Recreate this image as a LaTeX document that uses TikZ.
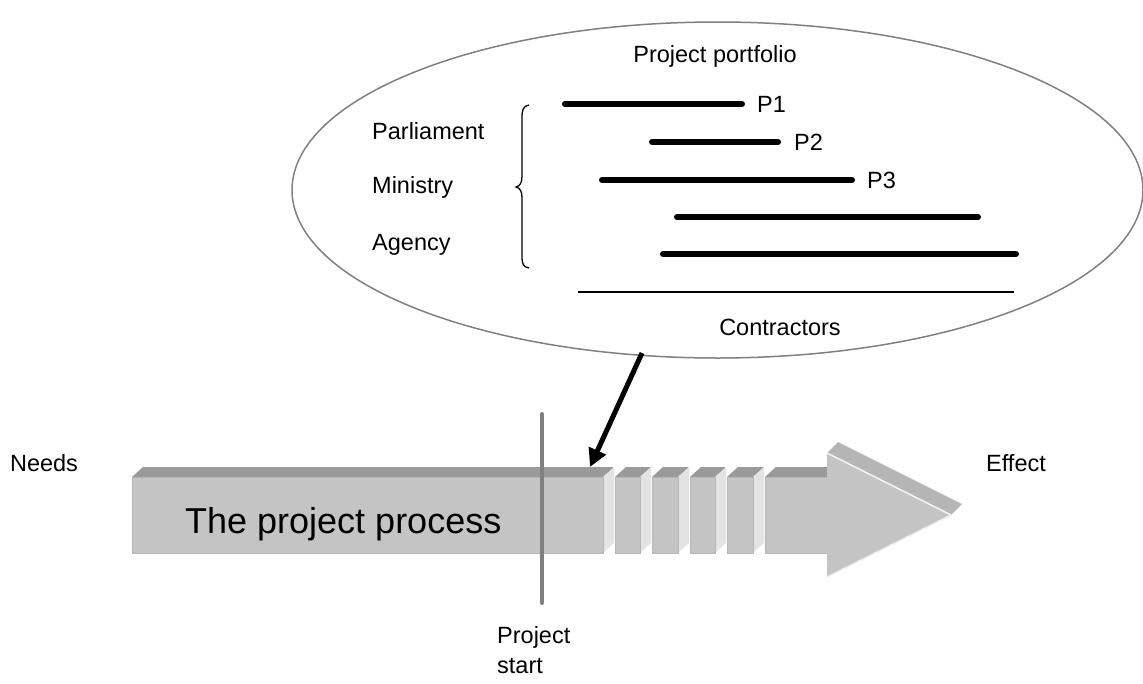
\documentclass[tikz,border=0pt]{standalone}
\usepackage{fontspec}
\setmainfont{Liberation Sans}
\usetikzlibrary{arrows.meta,shapes.geometric}
\definecolor{facefront}{HTML}{C4C4C4}
\definecolor{facetop}{HTML}{9A9A9A}
\definecolor{faceside}{HTML}{E3E3E3}
\definecolor{headtop}{HTML}{B5B5B5}
\definecolor{rimgray}{HTML}{808080}
\tikzset{
  txt/.style={font=\fontsize{23.5}{30}\selectfont, inner sep=0pt},
  bar/.style={line width=6pt, line cap=round, black},
  front/.style={fill=facefront, draw=facefront!93!black, line width=0.6pt},
  topface/.style={fill=facetop},
  sideface/.style={fill=faceside},
}
\begin{document}
\begin{tikzpicture}[x=1pt,y=-1pt]
\useasboundingbox (0,0) rectangle (1143,683);

% portfolio ellipse
\node (portfolio) [draw=rimgray, line width=1.5pt, ellipse, minimum width=851pt, minimum height=336pt, inner sep=0pt] at (717.5,190) {};
\node (title) [txt] at (715,56) {Project portfolio};

% organisational levels
\node (parl) [txt, anchor=west] at (372,131) {Parliament};
\node (min)  [txt, anchor=west] at (372,187) {Ministry};
\node (agy)  [txt, anchor=west] at (372,245) {Agency};

% curly brace grouping the levels
\draw[line width=1.3pt] (529,105) .. controls (523,106) and (522,110) .. (522,118) -- (522,176)
  .. controls (522,183) and (520,186) .. (516,187)
  .. controls (520,188) and (522,191) .. (522,198) -- (522,256)
  .. controls (522,264) and (523,267) .. (529,268);

% project bars
\coordinate (b1s) at (565,104); \node (p1) [txt, anchor=west] at (757,104) {P1};
\coordinate (b2s) at (652,142); \node (p2) [txt, anchor=west] at (794,142) {P2};
\coordinate (b3s) at (602,180); \node (p3) [txt, anchor=west] at (867,180) {P3};
\draw[bar] (b1s) -- ([xshift=-15pt]p1.west);
\draw[bar] (b2s) -- ([xshift=-16pt]p2.west);
\draw[bar] (b3s) -- ([xshift=-15pt]p3.west);
\coordinate (b4s) at (677,217); \coordinate (b4e) at (978,217);
\coordinate (b5s) at (663,254); \coordinate (b5e) at (1016,254);
\draw[bar] (b4s) -- (b4e);
\draw[bar] (b5s) -- (b5e);

% contractor line
\coordinate (cl) at (578,292); \coordinate (cr) at (1014,292);
\draw[line width=2pt] (cl) -- (cr);
\node (contr) [txt] at (780,327) {Contractors};

% 3D process arrow: body segments
\foreach \a/\b in {132/603, 615/640, 652/678, 690/715, 727/753} {
  \fill[topface] (\a,477) -- (\a+11,467) -- (\b+11,467) -- (\b,477) -- cycle;
  \fill[sideface] (\b,477) -- (\b+11,467) -- (\b+11,543) -- (\b,553) -- cycle;
  \draw[front] (\a,477) rectangle (\b,553);
}
% last segment joined to the head
\fill[topface] (765,477) -- (776,467) -- (838,467) -- (827,477) -- cycle;
\draw[front] (765,477) rectangle (828,553);
% head
\fill[headtop] (827,453) -- (838,442) -- (962,504) -- (951,515) -- cycle;
\fill[facefront] (827,453) -- (951,515) -- (827,577) -- cycle;
\draw[white!85!facefront, line width=1.5pt] (827,453) -- (951,515);
\draw[white!70!facefront, line width=1.5pt] (951,515) -- (827,577);

\node (process) [anchor=base west, inner sep=0pt, font=\fontsize{36}{40}\selectfont] at (185,533) {The project process};
\node (needs) [txt] at (44,463) {Needs};
\node (effect) [txt] at (1016,463) {Effect};

% project start marker
\coordinate (ms) at (542,414);
\coordinate (me) at (542,603);
\draw[rimgray, line width=4pt, line cap=round] (ms) -- (me);
\node (start) [txt, anchor=north west, align=left] at (497,626) {Project\\start};

% pointer from portfolio to process
\coordinate (ptr) at (642,353);
\coordinate (hit) at (590,467);
\draw[line width=5pt, -{Triangle[length=18pt,width=18pt]}] (ptr) -- (hit);
\end{tikzpicture}
\end{document}
